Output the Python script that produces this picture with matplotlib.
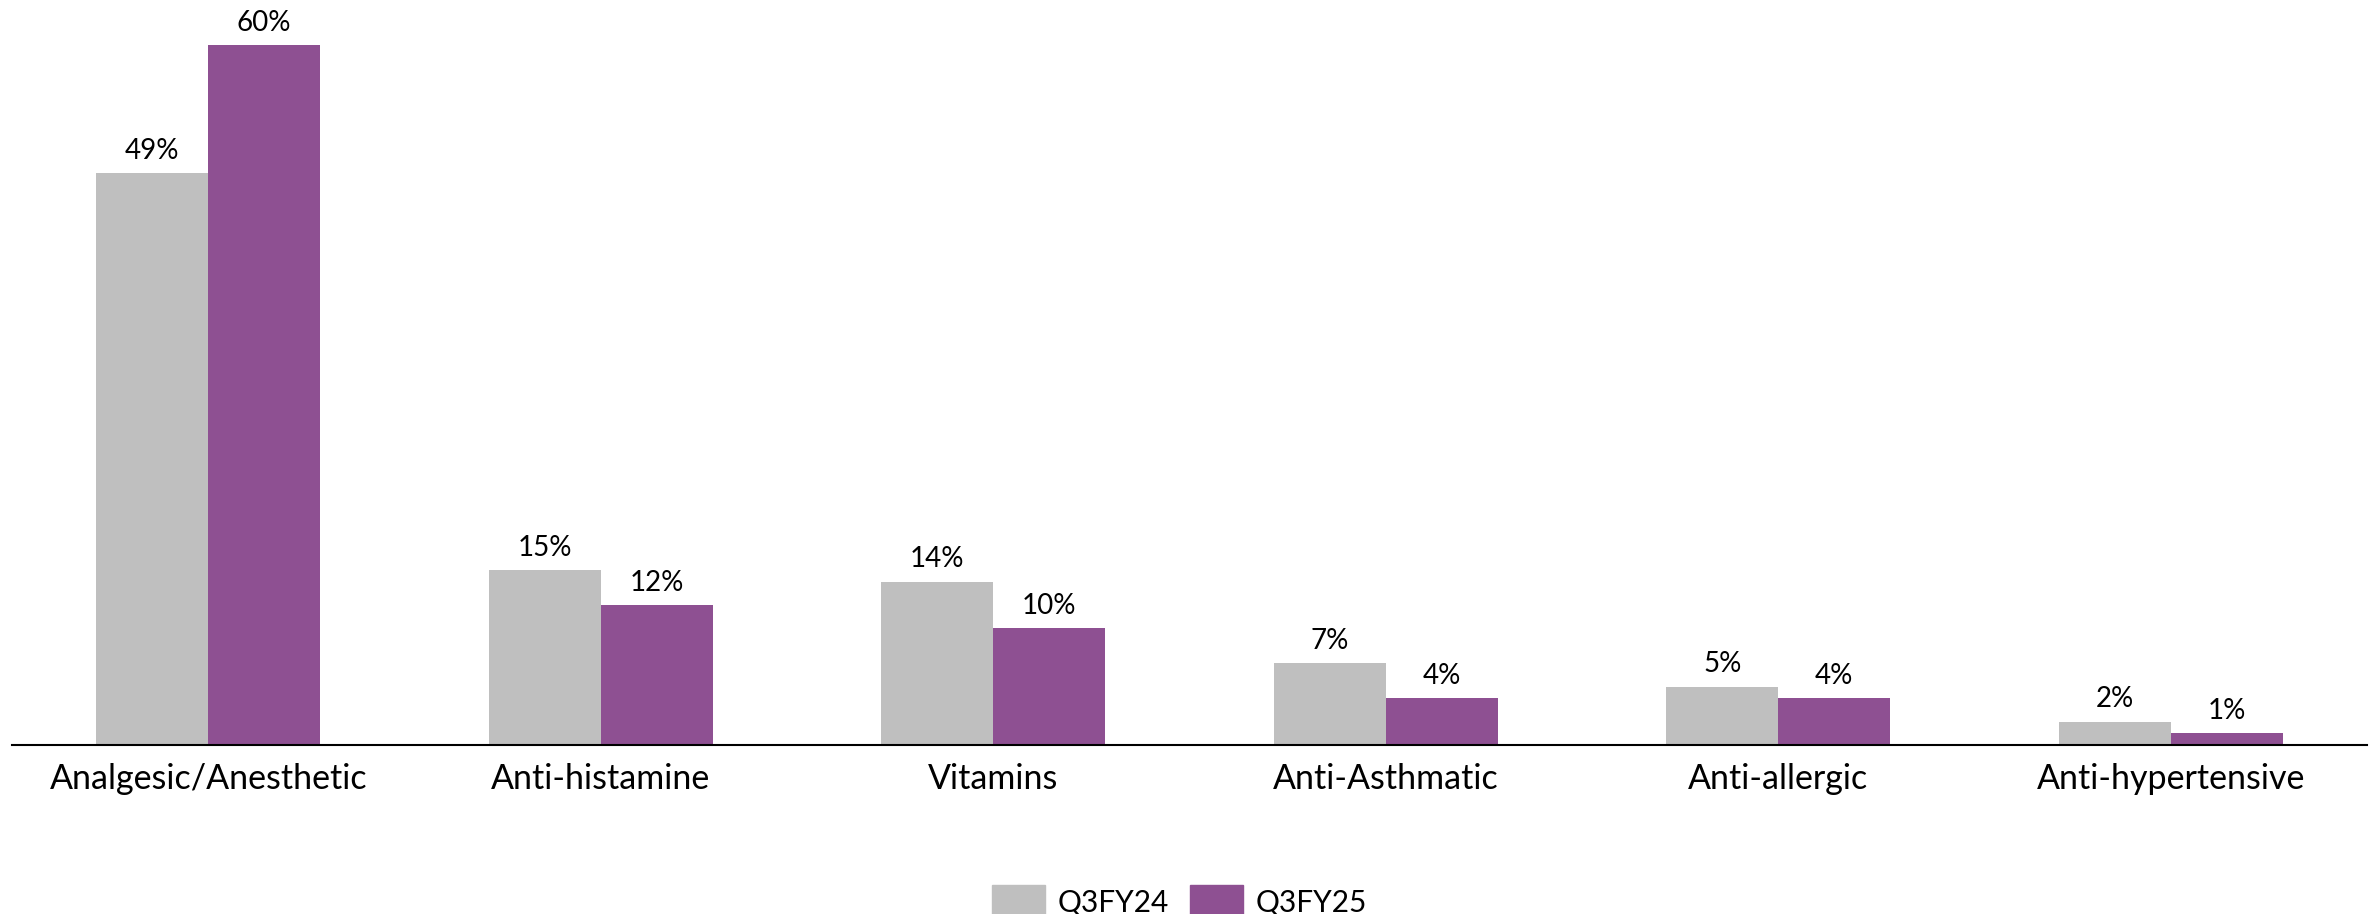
import numpy as np
import matplotlib.pyplot as plt
from matplotlib.patches import Patch

categories = ['Analgesic/Anesthetic', 'Anti-histamine', 'Vitamins',
              'Anti-Asthmatic', 'Anti-allergic', 'Anti-hypertensive']
q3fy24 = [49, 15, 14, 7, 5, 2]
q3fy25 = [60, 12, 10, 4, 4, 1]
series_names = ['Q3FY24', 'Q3FY25']
colors = ['#BFBFBF', '#8E5092']

plt.rcParams['font.family'] = ['Lato', 'DejaVu Sans']

fig = plt.figure(figsize=(23.74, 9.14), dpi=100)
ax = fig.add_axes([12 / 2374, 169 / 914, 2355 / 2374, 745 / 914])

x = np.arange(len(categories))
w = 0.285
for vals, off, c in [(q3fy24, -w / 2, colors[0]), (q3fy25, w / 2, colors[1])]:
    bars = ax.bar(x + off, vals, width=w, color=c)
    for b, v in zip(bars, vals):
        ax.text(b.get_x() + b.get_width() / 2, v + 0.8, f'{v}%',
                ha='center', va='bottom', fontsize=20)

ax.set_xlim(-0.5, len(categories) - 0.5)
ax.set_ylim(0, 63.86)
ax.set_xticks(x)
ax.set_xticklabels(categories, fontsize=24.5)
ax.tick_params(axis='x', length=0, pad=13)
ax.set_yticks([])
for s in ['top', 'right', 'left']:
    ax.spines[s].set_visible(False)
ax.spines['bottom'].set_linewidth(1.5)

handles = [Patch(color=c, label=n) for c, n in zip(colors, series_names)]
fig.legend(handles=handles, loc='lower center', ncol=2, frameon=False,
           fontsize=21.5, bbox_to_anchor=(0.497, -0.035), handlelength=1.75,
           handleheight=1.4, handletextpad=0.45, columnspacing=0.7)

fig.savefig('out.png', dpi=100)
